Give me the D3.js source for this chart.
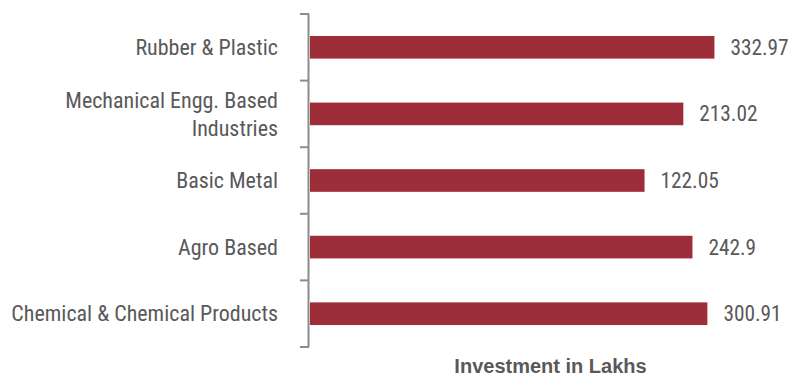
<!DOCTYPE html>
<html><head><meta charset="utf-8">
<script src="https://cdn.jsdelivr.net/npm/d3@7"></script>
<style>
html,body{margin:0;padding:0;background:#fff;}
svg text{font-family:"Liberation Sans Narrow","Arial Narrow","Roboto Condensed",sans-serif;}
</style></head>
<body><svg id="c" width="788" height="378"></svg>
<script>
const categories = ["Rubber & Plastic","Mechanical Engg. Based Industries","Basic Metal","Agro Based","Chemical & Chemical Products"];
const labelLines = [["Rubber & Plastic"],["Mechanical Engg. Based","Industries"],["Basic Metal"],["Agro Based"],["Chemical & Chemical Products"]];
const values = [332.97, 213.02, 122.05, 242.9, 300.91];
const valueLabels = ["332.97","213.02","122.05","242.9","300.91"];
const axisTitle = "Investment in Lakhs";

const svg = d3.select("#c");
const x = d3.scaleLog().domain([1,1000]).range([310,791]);
const y = d3.scaleBand().domain(categories).range([14,347]).paddingInner(0.66).paddingOuter(0.33);

// bars
svg.selectAll("rect.bar").data(values).enter().append("rect")
  .attr("x", x(1)).attr("y",(d,i)=>y(categories[i]))
  .attr("width", d=>x(d)-x(1)).attr("height", y.bandwidth())
  .attr("fill","#9d2e39");

// axis line and ticks at band boundaries
svg.append("line").attr("x1",308.5).attr("x2",308.5).attr("y1",14).attr("y2",347)
  .attr("stroke","#8c8c8c").attr("stroke-width",2);
d3.range(categories.length+1).forEach(i=>{
  const yy = 14 + i*333/categories.length;
  svg.append("line").attr("x1",300).attr("x2",309).attr("y1",yy).attr("y2",yy)
    .attr("stroke","#8c8c8c").attr("stroke-width",2);
});

// category labels
categories.forEach((c,i)=>{
  const lines = labelLines[i];
  const cy = y(c)+y.bandwidth()/2;
  const lh = 28;
  const t = svg.append("text").attr("text-anchor","end").attr("fill","#595959")
    .attr("font-size",22);
  lines.forEach((l,j)=>{
    t.append("tspan").attr("x",278).attr("y", cy + (j-(lines.length-1)/2)*lh).attr("dy","0.35em").text(l);
  });
});

// value labels
svg.selectAll("text.val").data(values).enter().append("text")
  .attr("x",d=>x(d)+16).attr("y",(d,i)=>y(categories[i])+y.bandwidth()/2).attr("dy","0.35em")
  .attr("fill","#595959").attr("font-size",21.3).text((d,i)=>valueLabels[i]);

// axis title
svg.append("text").attr("x",(x(1)+x(1000))/2).attr("y",373).attr("text-anchor","middle")
  .attr("fill","#595959").attr("font-size",20).attr("font-weight","bold")
  .style("font-family","'Liberation Sans',Arial,sans-serif").text(axisTitle);
</script></body></html>
